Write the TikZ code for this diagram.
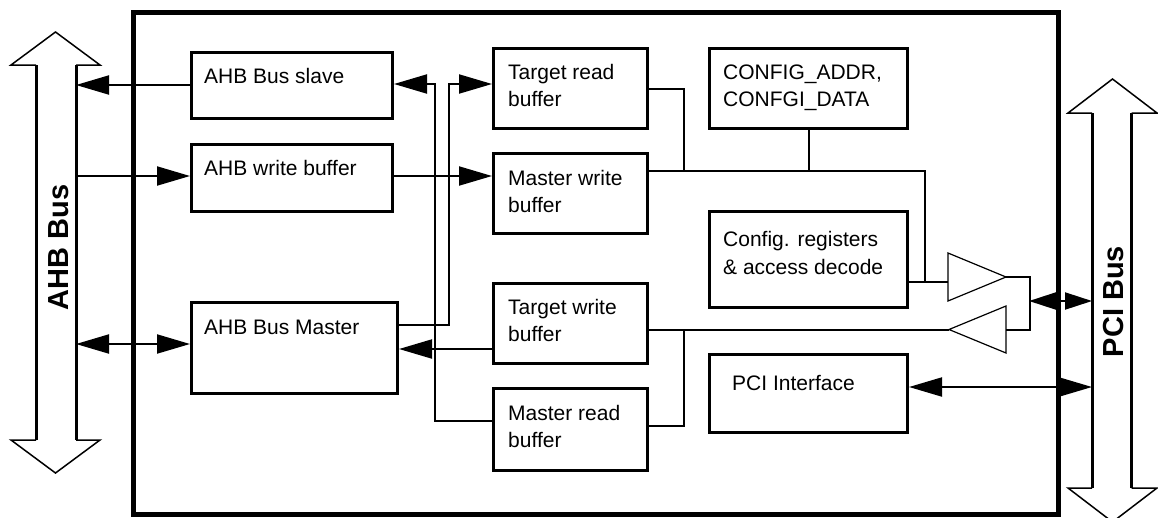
\documentclass[tikz,border=0pt]{standalone}
\usepackage{fontspec}
\setmainfont{Liberation Sans}
\usetikzlibrary{arrows.meta}
\begin{document}
\begin{tikzpicture}[x=1pt,y=-1pt,
  blk/.style={draw,line width=3pt,rectangle,inner sep=0pt,anchor=north west},
  lbl/.style={anchor=base west,inner sep=0pt,font=\fontsize{21}{27.5}\selectfont},
  buslbl/.style={rotate=90,anchor=base,inner sep=0pt,font=\bfseries\fontsize{29}{29}\selectfont},
  conn/.style={line width=2pt,line join=miter},
  >={Triangle[length=33pt,width=19pt]},
  sarr/.style={arrows={Triangle[length=27pt,width=17pt]-Triangle[length=27pt,width=17pt]}},
  headline/.style={line width=1.5pt,line join=miter},
  shaft/.style={line width=3pt},
  drv/.style={draw,line width=1.2pt,line join=miter}
]
\useasboundingbox (0,0) rectangle (1158,517);
\clip (0,0) rectangle (1158,517);

% outer frame
\draw[line width=5pt] (133,12.5) rectangle (1058,514.5);

% AHB bus arrow
\draw[headline] (36,65) -- (11,65) -- (55.5,32) -- (100,65) -- (76,65);
\draw[headline] (36,440) -- (11,440) -- (55.5,473) -- (100,440) -- (76,440);
\draw[shaft] (36,65) -- (36,440);
\draw[shaft] (76,65) -- (76,440);
\node[buslbl] (ahbL) at (68,247.5) {AHB Bus};
\coordinate (ahbA) at (76,85);
\coordinate (ahbB) at (76,176);
\coordinate (ahbC) at (76,344);

% PCI bus arrow
\draw[headline] (1092,113) -- (1068,113) -- (1112.5,79) -- (1157,113) -- (1131.5,113);
\draw[headline] (1092,488) -- (1068,488) -- (1112.5,522) -- (1157,488) -- (1131.5,488);
\draw[shaft] (1092,113) -- (1092,488);
\draw[shaft] (1131.5,113) -- (1131.5,488);
\node[buslbl] (pciL) at (1123,301.5) {PCI Bus};
\coordinate (pciA) at (1092,301);
\coordinate (pciB) at (1092,387);

% blocks
\node[blk,minimum width=201pt,minimum height=66pt] (slave) at (190,51) {};
\node[blk,minimum width=201pt,minimum height=67pt] (wbuf) at (190,143) {};
\node[blk,minimum width=206pt,minimum height=91pt] (master) at (190,301) {};
\node[blk,minimum width=154pt,minimum height=80pt] (trb) at (492,47) {};
\node[blk,minimum width=154pt,minimum height=80pt] (mwb) at (492,152) {};
\node[blk,minimum width=154pt,minimum height=80pt] (twb) at (492,282) {};
\node[blk,minimum width=154pt,minimum height=82pt] (mrb) at (492,387) {};
\node[blk,minimum width=198pt,minimum height=80pt] (cfg) at (708,47) {};
\node[blk,minimum width=198pt,minimum height=96pt] (creg) at (708,210) {};
\node[blk,minimum width=198pt,minimum height=78pt] (pci) at (708,353) {};

% block texts
\node[lbl] (slave-t) at (204,83) {AHB Bus slave};
\node[lbl] (wbuf-t) at (204,175) {AHB write buffer};
\node[lbl] (master-t) at (204,334) {AHB Bus Master};
\node[lbl] (trb-t) at (508,79) {\begin{tabular}[t]{@{}l@{}}Target read\\buffer\end{tabular}};
\node[lbl] (mwb-t) at (508,185) {\begin{tabular}[t]{@{}l@{}}Master write\\buffer\end{tabular}};
\node[lbl] (twb-t) at (508,314) {\begin{tabular}[t]{@{}l@{}}Target write\\buffer\end{tabular}};
\node[lbl] (mrb-t) at (508,420) {\begin{tabular}[t]{@{}l@{}}Master read\\buffer\end{tabular}};
\node[lbl] (cfg-t) at (723,79) {\begin{tabular}[t]{@{}l@{}}CONFIG\_ADDR,\\CONFGI\_DATA\end{tabular}};
\node[lbl] (creg-t) at (723,246.5) {\begin{tabular}[t]{@{}l@{}}Config. registers\\\& access decode\end{tabular}};
\node[lbl] (pci-t) at (732,390.5) {PCI Interface};

% drivers (tri-state buffers)
\coordinate (drvO-in) at (948,282);
\coordinate (drvO-out) at (1006,277);
\coordinate (drvI-in) at (1006,329.5);
\coordinate (drvI-out) at (949,329.5);
\draw[drv] (948,253) -- (1006,277) -- (948,301) -- cycle;
\draw[drv] (1006,306) -- (1006,353) -- (949,329.5) -- cycle;

% AHB side connectors
\draw[conn,->] (slave.west |- ahbA) -- (ahbA);
\draw[conn,->] (ahbB) -- (wbuf.west |- ahbB);
\draw[conn,<->] (ahbC) -- (master.west |- ahbC);
\draw[conn,->] (wbuf.east |- 0,176) -- (mwb.west |- 0,176);
\draw[conn,->] (master.east |- 0,325) -- (449,325) -- (449,84) -- (trb.west |- 0,84);
\draw[conn,->] (mrb.west |- 0,421) -- (435,421) -- (435,84) -- (slave.east |- 0,84);
\draw[conn,->] (twb.west |- 0,349) -- (master.east |- 0,349);

% internal bus towards PCI
\draw[conn] (trb.east |- 0,89) -- (684,89) -- (684,171);
\draw[conn] (mwb.east |- 0,171) -- (925,171) -- (925,282);
\draw[conn] (cfg.south) -- (cfg.south |- 0,171);
\draw[conn] (creg.east |- drvO-in) -- (drvO-in);
\draw[conn] (drvO-out) -- (1030,277) -- (1030,329.5) -- (drvI-in);
\draw[conn] (drvI-out) -- (twb.east |- drvI-out);
\draw[conn] (684,329.5) -- (684,426) -- (mrb.east |- 0,426);

% PCI side connectors
\draw[conn,sarr] (1029,301) -- (pciA);
\draw[conn,<->] (pci.east |- pciB) -- (pciB);
\end{tikzpicture}
\end{document}
